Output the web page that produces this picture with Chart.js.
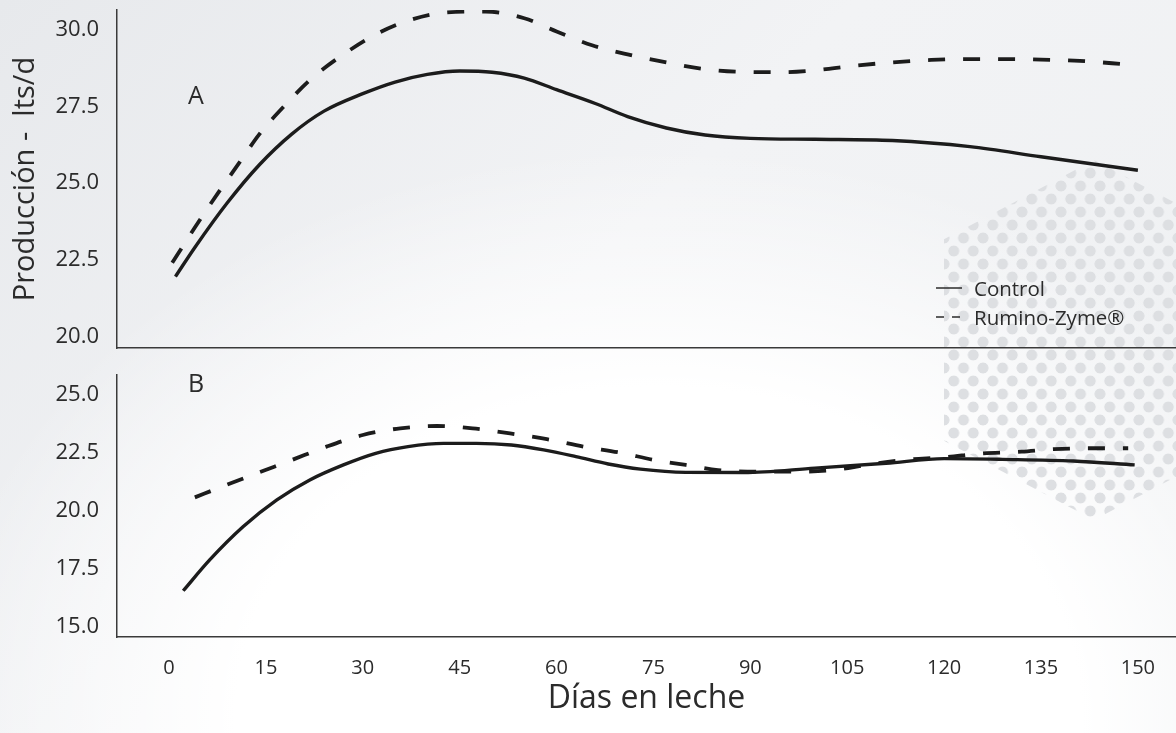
<!DOCTYPE html>
<html lang="es">
<head>
<meta charset="utf-8">
<title>Producción - lts/d</title>
<script src="https://cdn.jsdelivr.net/npm/chart.js@4.4.1/dist/chart.umd.min.js"></script>
<style>
  html, body { margin: 0; padding: 0; }
  body {
    width: 1176px; height: 733px; overflow: hidden; position: relative;
    background:
      radial-gradient(ellipse 62% 78% at 56% 98%, #ffffff 58%, rgba(255,255,255,0) 100%),
      linear-gradient(135deg, #e7e9ec 0%, #f2f3f5 45%, #eef0f2 100%);
  }
  #dots {
    position: absolute; left: 944px; top: 160px; width: 300px; height: 360px;
    clip-path: polygon(0 22%, 50% 0, 100% 22%, 100% 78%, 50% 100%, 0 78%);
    background-image:
      radial-gradient(circle at center, #dddfe2 0 5.1px, rgba(221,223,226,0) 5.8px),
      radial-gradient(circle at center, #dddfe2 0 5.1px, rgba(221,223,226,0) 5.8px);
    background-size: 19.5px 26px, 19.5px 26px;
    background-position: 0 0, 9.75px 13px;
  }
  canvas { position: absolute; left: 0; }
  #chartA { top: 0; }
  #chartB { top: 360px; }
</style>
</head>
<body>
<div id="dots"></div>
<canvas id="chartA" width="1176" height="360"></canvas>
<canvas id="chartB" width="1176" height="373"></canvas>
<script>
(() => {
  // ---------------- Data ----------------
  const seriesNames = ["Control", "Rumino-Zyme®"];

  // Panel A
  const daysControlA = [1, 4, 9, 14, 19, 24, 30, 35, 40, 45, 50, 55, 60, 66, 71, 77, 83, 90, 100, 112, 124, 135, 150];
  const controlA = [21.95, 22.9, 24.35, 25.6, 26.6, 27.35, 27.92, 28.3, 28.55, 28.66, 28.62, 28.43, 28.05, 27.6, 27.17, 26.8, 26.57, 26.46, 26.43, 26.39, 26.19, 25.86, 25.42];
  const daysRuminoA = [0.5, 4, 7.5, 11, 14, 18, 22, 27, 32, 37, 43, 49, 55, 60, 65.5, 71, 77, 83, 89, 95, 100, 106, 112, 118, 124, 130, 135, 141, 148.5];
  const ruminoA = [22.4, 23.55, 24.65, 25.7, 26.6, 27.55, 28.4, 29.2, 29.85, 30.3, 30.57, 30.6, 30.38, 29.95, 29.5, 29.2, 28.94, 28.72, 28.63, 28.62, 28.68, 28.83, 28.94, 29.02, 29.05, 29.05, 29.03, 28.99, 28.87];

  // Panel B
  const daysControlB = [2.2, 6.3, 11.5, 16.7, 21.8, 27, 32, 37, 42.5, 47.6, 53, 58, 63, 68, 73, 80, 89, 100, 111, 120, 129, 140, 149.5];
  const controlB = [16.55, 17.88, 19.32, 20.47, 21.33, 21.98, 22.48, 22.77, 22.91, 22.91, 22.84, 22.63, 22.34, 22.02, 21.8, 21.66, 21.65, 21.84, 22.05, 22.25, 22.22, 22.15, 21.98];
  const daysRuminoB = [4, 8.2, 13.6, 19, 24.4, 30, 35.8, 41.5, 47, 52.8, 58.5, 64.2, 70, 75, 80, 85, 91, 97, 103, 108, 114, 120, 126, 132, 137, 143, 148.5];
  const ruminoB = [20.58, 21.04, 21.62, 22.19, 22.77, 23.27, 23.56, 23.66, 23.56, 23.34, 23.09, 22.77, 22.5, 22.2, 21.98, 21.76, 21.69, 21.69, 21.76, 21.98, 22.2, 22.31, 22.48, 22.55, 22.66, 22.7, 22.7];

  // Axis ticks
  const xTicks = [0, 15, 30, 45, 60, 75, 90, 105, 120, 135, 150];
  const yTicksA = [20, 22.5, 25, 27.5, 30];
  const yTicksB = [15, 17.5, 20, 22.5, 25];

  // ---------------- Styles ----------------
  const INK = "#1c1c1c";
  const TEXT = "#2b2b2b";
  const AXIS = "#3a3a3a";
  const FONT = "'Open Sans', 'Noto Sans', sans-serif";
  const X_MIN = -8.05, X_MAX = 155.9;

  const pts = (xs, ys) => xs.map((x, i) => ({ x, y: ys[i] }));

  function lineDataset(label, data, dashed) {
    return {
      label,
      data,
      borderColor: INK,
      borderWidth: dashed ? 3.8 : 3.4,
      borderDash: dashed ? [17, 18] : [],
      pointRadius: 0,
      cubicInterpolationMode: "monotone",
      fill: false,
    };
  }

  // no extra room for end labels: chart areas are pinned by layout padding
  const noPad = (s) => { s.paddingTop = 0; s.paddingBottom = 0; s.paddingLeft = 0; s.paddingRight = 0; };

  // ---------------- Plugins ----------------
  const panelLabel = {
    id: "panelLabel",
    afterDraw(chart, args, opts) {
      const { ctx, chartArea } = chart;
      ctx.save();
      ctx.font = `25px ${FONT}`;
      ctx.fillStyle = TEXT;
      ctx.textAlign = "center";
      ctx.textBaseline = "middle";
      ctx.fillText(opts.text, chartArea.left + opts.dx, chartArea.top + opts.dy);
      ctx.restore();
    },
  };

  const cornerLegend = {
    id: "cornerLegend",
    afterDraw(chart, args, opts) {
      if (!opts.show) return;
      const { ctx } = chart;
      ctx.save();
      ctx.font = `20.5px ${FONT}`;
      ctx.fillStyle = TEXT;
      ctx.strokeStyle = TEXT;
      ctx.lineWidth = 1.5;
      ctx.textBaseline = "middle";
      chart.data.datasets.forEach((ds, i) => {
        const y = opts.y + i * opts.rowGap;
        ctx.beginPath();
        ctx.setLineDash(ds.borderDash.length ? [8, 8] : []);
        ctx.moveTo(opts.x, y - 2);
        ctx.lineTo(opts.x + 26, y - 2);
        ctx.stroke();
        ctx.setLineDash([]);
        ctx.fillText(ds.label, opts.x + 38, y);
      });
      ctx.restore();
    },
  };

  function yScale(min, max, ticks, title) {
    return {
      min, max,
      afterBuildTicks: (s) => { s.ticks = ticks.map((v) => ({ value: v })); },
      afterFit: (s) => { s.width = 117; noPad(s); },
      grid: { display: false, drawTicks: false },
      border: { display: true, color: AXIS, width: 1.5 },
      ticks: {
        padding: 18,
        color: TEXT,
        font: { family: FONT, size: 22 },
        callback: (v) => Number(v).toFixed(1),
      },
      title: title
        ? { display: true, text: title, color: TEXT, font: { family: FONT, size: 29 }, padding: { top: 8, bottom: 0 } }
        : { display: false },
    };
  }

  // ---------------- Panel A ----------------
  new Chart(document.getElementById("chartA"), {
    type: "line",
    data: {
      datasets: [
        lineDataset(seriesNames[0], pts(daysControlA, controlA), false),
        lineDataset(seriesNames[1], pts(daysRuminoA, ruminoA), true),
      ],
    },
    options: {
      responsive: false,
      animation: false,
      layout: { padding: { top: 10, right: 0, bottom: 0, left: 0 } },
      plugins: {
        legend: { display: false },
        tooltip: { enabled: false },
        panelLabel: { text: "A", dx: 79, dy: 87 },
        cornerLegend: { show: true, x: 936, y: 290, rowGap: 29 },
      },
      scales: {
        x: {
          type: "linear",
          min: X_MIN, max: X_MAX,
          afterFit: (s) => { s.height = 12; noPad(s); },
          grid: { display: false, drawTicks: false },
          border: { display: true, color: AXIS, width: 1.5 },
          ticks: { display: false },
        },
        y: yScale(19.62, 30.65, yTicksA, "Producción -  lts/d"),
      },
    },
    plugins: [panelLabel, cornerLegend],
  });

  // ---------------- Panel B ----------------
  new Chart(document.getElementById("chartB"), {
    type: "line",
    data: {
      datasets: [
        lineDataset(seriesNames[0], pts(daysControlB, controlB), false),
        lineDataset(seriesNames[1], pts(daysRuminoB, ruminoB), true),
      ],
    },
    options: {
      responsive: false,
      animation: false,
      layout: { padding: { top: 15, right: 0, bottom: 0, left: 0 } },
      plugins: {
        legend: { display: false },
        tooltip: { enabled: false },
        panelLabel: { text: "B", dx: 79, dy: 10 },
        cornerLegend: { show: false },
      },
      scales: {
        x: {
          type: "linear",
          min: X_MIN, max: X_MAX,
          afterBuildTicks: (s) => { s.ticks = xTicks.map((v) => ({ value: v })); },
          afterFit: (s) => { s.height = 96; noPad(s); },
          grid: { display: false, drawTicks: false },
          border: { display: true, color: AXIS, width: 1.5 },
          ticks: { padding: 19, color: TEXT, font: { family: FONT, size: 20 }, maxRotation: 0, autoSkip: false },
          title: { display: true, text: "Días en leche", color: TEXT, font: { family: FONT, size: 32 }, padding: { top: 15, bottom: 15 } },
        },
        y: yScale(14.555, 25.86, yTicksB, null),
      },
    },
    plugins: [panelLabel, cornerLegend],
  });
})();
</script>
</body>
</html>
